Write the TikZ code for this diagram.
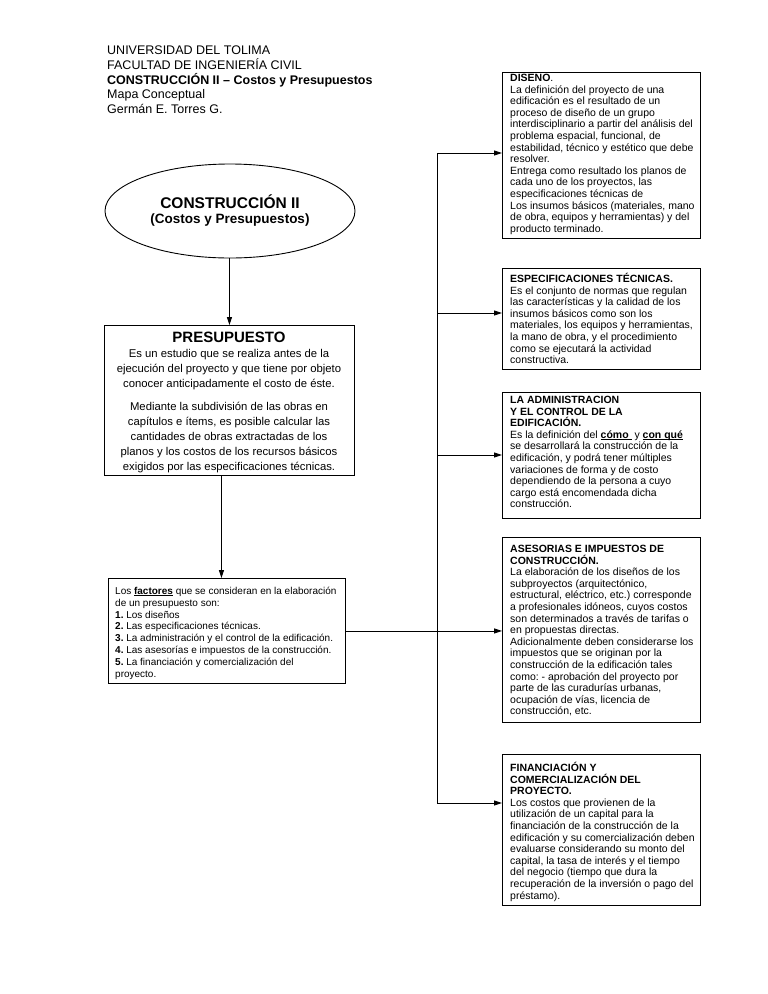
\documentclass[tikz,border=0pt]{standalone}
\usepackage{fontspec}
\setmainfont{Liberation Sans}
\usetikzlibrary{arrows.meta,shapes.geometric}
\newcommand\myul[1]{\leavevmode\setbox0\hbox{#1}\rlap{\rule[-1.6pt]{\wd0}{0.7pt}}\box0\relax}
\frenchspacing
\begin{document}
\begin{tikzpicture}[x=1pt,y=-1pt,
  arr/.style={-{Triangle[length=8pt,width=5pt]}, line width=0.9pt},
  conn/.style={line width=0.9pt},
  boxr/.style={draw, line width=0.9pt, anchor=north west, inner sep=0pt},
  rtext/.style={anchor=north west, inner sep=0pt, align=left, font=\fontsize{10.5}{11.6}\selectfont},
  ftext/.style={anchor=north west, inner sep=0pt, align=left, font=\fontsize{10}{11.8}\selectfont},
  hdr/.style={anchor=north west, inner sep=0pt, align=left, font=\fontsize{12.5}{14.8}\selectfont}]
\fill[white] (0,0) rectangle (768,994);
\useasboundingbox (0,0) rectangle (768,994);

% header
\node[hdr] (header) at (107,45.5) {UNIVERSIDAD DEL TOLIMA\\
FACULTAD DE INGENIERÍA CIVIL\\
\textbf{CONSTRUCCIÓN II -- Costos y Presupuestos}\\
Mapa Conceptual\\
Germán E. Torres G.};

% ellipse
\node[draw, ellipse, line width=0.9pt, minimum width=250pt, minimum height=94pt, inner sep=0pt, align=center, font=\bfseries] (ell) at (230,211)
  {{\fontsize{15.5}{17}\selectfont CONSTRUCCIÓN II}\\[3pt]{\fontsize{13.5}{15}\selectfont (Costos y Presupuestos)}};

% presupuesto box
\node[boxr, minimum width=250pt, minimum height=150pt] (pbox) at (104,325) {};
\node[inner sep=0pt, font=\fontsize{15}{17}\selectfont\bfseries] (ptitle) at (229,337.5) {PRESUPUESTO};
\node[anchor=north, inner sep=0pt, align=center, font=\fontsize{11.3}{15}\selectfont] (pbody) at (229,349)
  {Es un estudio que se realiza antes de la\\
ejecución del proyecto y que tiene por objeto\\
conocer anticipadamente el costo de éste.\\[8pt]
Mediante la subdivisión de las obras en\\
capítulos e ítems, es posible calcular las\\
cantidades de obras extractadas de los\\
planos y los costos de los recursos básicos\\
exigidos por las especificaciones técnicas.};

% factores box
\node[boxr, minimum width=237pt, minimum height=105pt] (fact) at (108,578) {};
\node[ftext] (ftxt) at (115,587) {Los \myul{\textbf{factores}} que se consideran en la elaboración\\
de un presupuesto son:\\
\textbf{1.} Los diseños\\
\textbf{2.} Las especificaciones técnicas.\\
\textbf{3.} La administración y el control de la edificación.\\
\textbf{4.} Las asesorías e impuestos de la construcción.\\
\textbf{5.} La financiación y comercialización del\\
proyecto.};

% right boxes
\node[boxr, minimum width=198pt, minimum height=166pt] (b1) at (502,72) {};
\node[rtext] (t1) at (510,74) {\textbf{DISENO}.\\
La definición del proyecto de una\\
edificación es el resultado de un\\
proceso de diseño de un grupo\\
interdisciplinario a partir del análisis del\\
problema espacial, funcional, de\\
estabilidad, técnico y estético que debe\\
resolver.\\
Entrega como resultado los planos de\\
cada uno de los proyectos, las\\
especificaciones técnicas de\\
Los insumos básicos (materiales, mano\\
de obra, equipos y herramientas) y del\\
producto terminado.};

\node[boxr, minimum width=198pt, minimum height=101pt] (b2) at (502,268) {};
\node[rtext] (t2) at (510,273) {\textbf{ESPECIFICACIONES TÉCNICAS.}\\
Es el conjunto de normas que regulan\\
las características y la calidad de los\\
insumos básicos como son los\\
materiales, los equipos y herramientas,\\
la mano de obra, y el procedimiento\\
como se ejecutará la actividad\\
constructiva.};

\node[boxr, minimum width=198pt, minimum height=126pt] (b3) at (502,392) {};
\node[rtext] (t3) at (510,396) {\textbf{LA ADMINISTRACION}\\
\textbf{Y EL CONTROL DE LA}\\
\textbf{EDIFICACIÓN.}\\
Es la definición del \myul{\textbf{cómo}\ } y \myul{\textbf{con qué}}\\
se desarrollará la construcción de la\\
edificación, y podrá tener múltiples\\
variaciones de forma y de costo\\
dependiendo de la persona a cuyo\\
cargo está encomendada dicha\\
construcción.};

\node[boxr, minimum width=198pt, minimum height=185pt] (b4) at (502,537) {};
\node[rtext] (t4) at (510,545) {\textbf{ASESORIAS E IMPUESTOS DE}\\
\textbf{CONSTRUCCIÓN.}\\
La elaboración de los diseños de los\\
subproyectos (arquitectónico,\\
estructural, eléctrico, etc.) corresponde\\
a profesionales idóneos, cuyos costos\\
son determinados a través de tarifas o\\
en propuestas directas.\\
Adicionalmente deben considerarse los\\
impuestos que se originan por la\\
construcción de la edificación tales\\
como: - aprobación del proyecto por\\
parte de las curadurías urbanas,\\
ocupación de vías, licencia de\\
construcción, etc.};

\node[boxr, minimum width=198pt, minimum height=151pt] (b5) at (502,754) {};
\node[rtext] (t5) at (510,762) {\textbf{FINANCIACIÓN Y}\\
\textbf{COMERCIALIZACIÓN DEL}\\
\textbf{PROYECTO.}\\
Los costos que provienen de la\\
utilización de un capital para la\\
financiación de la construcción de la\\
edificación y su comercialización deben\\
evaluarse considerando su monto del\\
capital, la tasa de interés y el tiempo\\
del negocio (tiempo que dura la\\
recuperación de la inversión o pago del\\
préstamo).};

% connectors
\draw[arr] (pbox.north |- ell.south) -- (pbox.north);
\draw[arr] ([xshift=-8pt]pbox.south) -- ([xshift=-8pt]pbox.south |- fact.north);

\coordinate (jtop) at (437,153);
\coordinate (j2) at (437,313);
\coordinate (j3) at (437,455);
\coordinate (jbot) at (437,803);
\draw[conn] (jtop) -- (jbot);
\draw[arr] (fact.east) -- (fact.east -| b4.west);
\draw[arr] (jtop) -- (jtop -| b1.west);
\draw[arr] (j2) -- (j2 -| b2.west);
\draw[arr] (j3) -- (j3 -| b3.west);
\draw[arr] (jbot) -- (jbot -| b5.west);
\end{tikzpicture}
\end{document}
